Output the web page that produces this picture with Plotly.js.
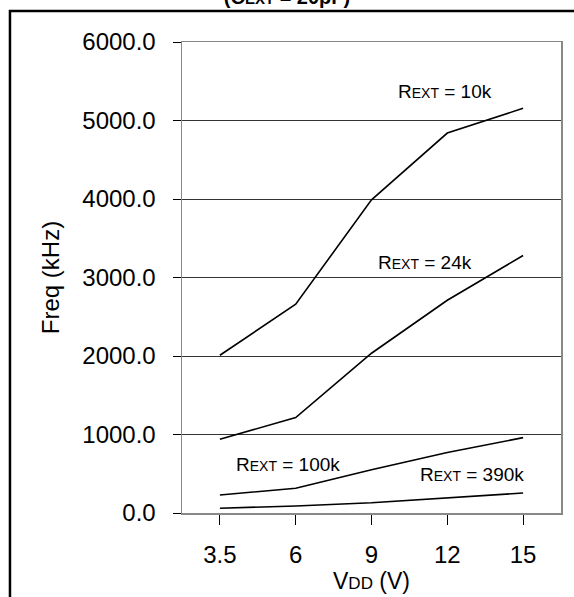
<!DOCTYPE html>
<html>
<head>
<meta charset="utf-8">
<script src="https://cdn.plot.ly/plotly-3.0.1.min.js"></script>
<style>html,body{margin:0;padding:0;background:#fff;}#chart{width:574px;height:597px;}</style>
</head>
<body>
<div id="chart"></div>
<script>
const vdd = ['3.5', '6', '9', '12', '15'];
const r10k  = [2010, 2660, 3990, 4840, 5155];
const r24k  = [940, 1215, 2035, 2710, 3280];
const r100k = [230, 315, 550, 770, 960];
const r390k = [60, 90, 130, 190, 255];
const seriesNames = ['R10k', 'R24k', 'R100k', 'R390k'];
const labelTexts = ['10k', '24k', '100k', '390k'];

const FONT = 'Liberation Sans, Arial, Helvetica, sans-serif';
const allSeries = [r10k, r24k, r100k, r390k];
const traces = allSeries.map((ys, i) => ({
  x: vdd, y: ys, type: 'scatter', mode: 'lines', name: seriesNames[i],
  line: {color: '#000', width: 1.6}, showlegend: false, hoverinfo: 'skip'
}));

function rlabel(v) {
  return 'R<span style="font-size:14px">EXT</span> = ' + v;
}
const labelPos = [
  {x: 0.694, y: 0.8945},
  {x: 0.641, y: 0.5314},
  {x: 0.281, y: 0.104},
  {x: 0.764, y: 0.0828}
];
const annotations = labelTexts.map((t, i) => ({
  text: rlabel(t), xref: 'paper', yref: 'paper', x: labelPos[i].x, y: labelPos[i].y,
  xanchor: 'center', yanchor: 'middle', showarrow: false,
  font: {family: FONT, size: 19, color: '#000'}
}));

const layout = {
  width: 574, height: 597,
  margin: {l: 182, r: 13, t: 42, b: 84, pad: 0},
  paper_bgcolor: '#fff', plot_bgcolor: '#fff',
  font: {family: FONT, color: '#000'},
  title: {
    text: '<b>(C<span style="font-size:15px">EXT</span> = 20pF)</b>',
    x: 0.5, xref: 'container', xanchor: 'center',
    y: 0.993, yref: 'container', yanchor: 'bottom',
    font: {family: FONT, size: 20, color: '#000'}
  },
  xaxis: {
    type: 'category', categoryorder: 'array', categoryarray: vdd,
    range: [-0.5, 4.5], fixedrange: true,
    showgrid: false, zeroline: false,
    showline: true, linecolor: '#888', linewidth: 1.5, mirror: true,
    ticks: 'outside', ticklen: 10, tickwidth: 1, tickcolor: '#000',
    ticklabelstandoff: 10,
    tickfont: {family: FONT, size: 24, color: '#000'},
    title: {text: 'V<span style="font-size:17px">DD</span> (V)', standoff: 0,
            font: {family: FONT, size: 23, color: '#000'}}
  },
  yaxis: {
    range: [0, 6000], dtick: 1000, tick0: 0, tickformat: '.1f', fixedrange: true,
    showgrid: true, gridcolor: '#333', gridwidth: 1, zeroline: false,
    showline: true, linecolor: '#888', linewidth: 1.5, mirror: true,
    ticks: 'outside', ticklen: 8, tickwidth: 1, tickcolor: '#000',
    ticklabelstandoff: 12,
    tickfont: {family: FONT, size: 24, color: '#000'},
    title: {text: 'Freq (kHz)', standoff: 16,
            font: {family: FONT, size: 24, color: '#000'}}
  },
  shapes: [{
    type: 'rect', xref: 'paper', yref: 'paper',
    x0: -0.4539, x1: 1.2, y0: -0.4, y1: 1.0658,
    line: {color: '#000', width: 2.5}, fillcolor: 'rgba(0,0,0,0)', layer: 'above'
  }],
  annotations: annotations
};

Plotly.newPlot('chart', traces, layout, {displayModeBar: false, staticPlot: true});
</script>
</body>
</html>
